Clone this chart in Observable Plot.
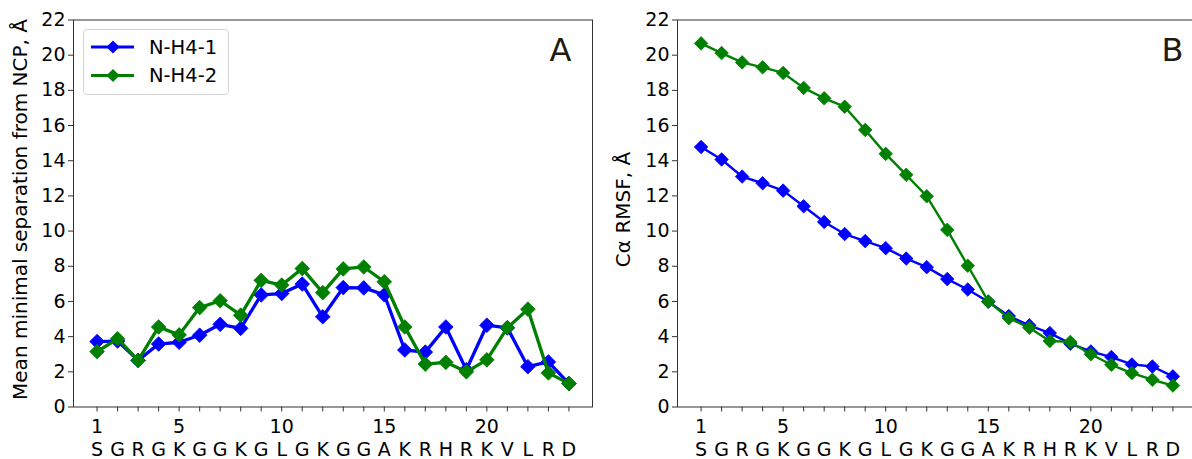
<!DOCTYPE html>
<html>
<head>
<meta charset="utf-8">
<script src="https://cdn.jsdelivr.net/npm/d3@7"></script>
<script src="https://cdn.jsdelivr.net/npm/@observablehq/plot@0.6"></script>
<style>
  html, body { margin: 0; padding: 0; background: #fff; overflow: hidden; }
  #fig { position: relative; width: 1192px; height: 459px; overflow: hidden; font-family: "DejaVu Sans", sans-serif; }
  .panel { position: absolute; top: 0; }
  .legend { position: absolute; box-sizing: border-box; border: 1px solid #d4d4d4; border-radius: 4px; background: rgba(255,255,255,0.85); }
</style>
</head>
<body>
<div id="fig"></div>
<script>
// Residue positions of the H4 N-terminal tail and their one-letter codes
const residueNumbers = d3.range(1, 25);
const residues = ["S","G","R","G","K","G","G","K","G","L","G","K","G","G","A","K","R","H","R","K","V","L","R","D"];
const numberedTicks = [1, 5, 10, 15, 20];
const yTicks = d3.range(0, 23, 2);

const seriesNames = ["N-H4-1", "N-H4-2"];
const seriesColors = ["#0000ff", "#008000"];

// Panel A: mean minimal separation from the nucleosome core particle (Å)
const separationH41 = [3.72, 3.75, 2.65, 3.58, 3.68, 4.08, 4.7, 4.47, 6.37, 6.45, 6.99, 5.13, 6.79, 6.77, 6.38, 3.24, 3.12, 4.55, 2.12, 4.65, 4.5, 2.29, 2.56, 1.33];
const separationH42 = [3.15, 3.88, 2.65, 4.55, 4.1, 5.65, 6.04, 5.22, 7.2, 6.93, 7.87, 6.5, 7.85, 7.96, 7.12, 4.55, 2.44, 2.54, 2.0, 2.68, 4.51, 5.56, 1.94, 1.33];

// Panel B: C-alpha RMSF (Å)
const rmsfH41 = [14.78, 14.07, 13.1, 12.72, 12.3, 11.41, 10.52, 9.83, 9.43, 9.03, 8.44, 7.95, 7.27, 6.68, 5.98, 5.17, 4.64, 4.2, 3.6, 3.16, 2.84, 2.42, 2.3, 1.74];
const rmsfH42 = [20.67, 20.12, 19.59, 19.31, 18.99, 18.14, 17.55, 17.07, 15.75, 14.39, 13.2, 11.98, 10.07, 8.03, 6.0, 5.05, 4.51, 3.75, 3.7, 3.0, 2.4, 1.93, 1.55, 1.22];

const FONT = "DejaVu Sans";
const TICK_FONT = 19;
const fig = document.getElementById("fig");

function drawPanel({ series, yLabel, tag, left, lineWidth, markerR, labelDx, tagDx }) {
  const marks = [
    Plot.frame({ stroke: "#333", strokeWidth: 1 }),
    Plot.axisY(yTicks, { tickSize: 5, tickPadding: 3, label: null, stroke: "#333", fill: "#000", fontSize: TICK_FONT }),
    Plot.axisX(residueNumbers, { tickSize: 5, tickPadding: 30, label: null, stroke: "#333", fill: "#000", fontSize: TICK_FONT, tickFormat: (i) => residues[i - 1] }),
    Plot.axisX(numberedTicks, { tickSize: 0, tickPadding: 12, label: null, fill: "#000", fontSize: TICK_FONT, tickFormat: (d) => String(d) }),
    Plot.text([yLabel], { frameAnchor: "left", rotate: -90, dx: labelDx, dy: -4, fontSize: 20, fill: "#000", lineAnchor: "middle", textAnchor: "middle" }),
    Plot.text([tag], { frameAnchor: "top-right", dx: tagDx, dy: 30.5, fontSize: 32, fill: "#1e1b10", lineAnchor: "middle", textAnchor: "middle" })
  ];
  series.forEach((values, s) => {
    const rows = values.map((v, i) => ({ pos: residueNumbers[i], value: v, name: seriesNames[s] }));
    marks.push(
      Plot.line(rows, { x: "pos", y: "value", stroke: seriesColors[s], strokeWidth: lineWidth }),
      Plot.dot(rows, { x: "pos", y: "value", symbol: "diamond2", r: markerR, fill: seriesColors[s], stroke: seriesColors[s], strokeWidth: 0.8 })
    );
  });
  const chart = Plot.plot({
    width: 600,
    height: 459,
    marginLeft: 73,
    marginRight: 8,
    marginTop: 19.5,
    marginBottom: 52.5,
    style: { fontFamily: FONT, fontSize: TICK_FONT + "px", background: "transparent", color: "#000", overflow: "visible" },
    x: { domain: [-0.15, 25.15] },
    y: { domain: [0, 22] },
    marks
  });
  chart.classList.add("panel");
  chart.style.left = left + "px";
  fig.appendChild(chart);
}

drawPanel({
  series: [separationH41, separationH42],
  yLabel: "Mean minimal separation from NCP, Å",
  tag: "A",
  left: 0,
  lineWidth: 3.3,
  markerR: 6.6,
  labelDx: -53,
  tagDx: -32
});

drawPanel({
  series: [rmsfH41, rmsfH42],
  yLabel: "Cα RMSF, Å",
  tag: "B",
  left: 604,
  lineWidth: 2.4,
  markerR: 6.1,
  labelDx: -54,
  tagDx: -24
});

// Legend for panel A
const legend = d3.select(fig).append("div")
  .attr("class", "legend")
  .style("left", "83px").style("top", "29px")
  .style("width", "146px").style("height", "66px");
const lsvg = legend.append("svg").attr("width", 144).attr("height", 64)
  .style("position", "absolute").style("left", "0").style("top", "0");
seriesNames.forEach((name, s) => {
  const cy = 17 + s * 28.5;
  const g = lsvg.append("g");
  g.append("line").attr("x1", 7).attr("x2", 50).attr("y1", cy).attr("y2", cy)
    .attr("stroke", seriesColors[s]).attr("stroke-width", 3);
  g.append("path").attr("d", d3.symbol(d3.symbolDiamond2, 110)())
    .attr("transform", `translate(29,${cy})`).attr("fill", seriesColors[s]);
  g.append("text").attr("x", 65).attr("y", cy).attr("dy", "0.35em")
    .attr("font-family", FONT).attr("font-size", 19.5).attr("fill", "#000").text(name);
});
</script>
</body>
</html>
